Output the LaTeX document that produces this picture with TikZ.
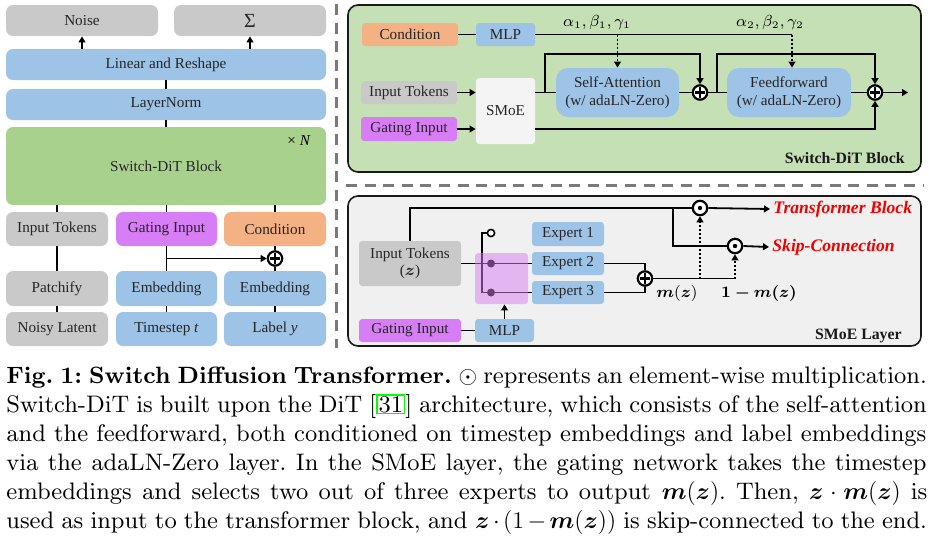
\documentclass[tikz,border=0pt]{standalone}
\usepackage{fontspec}
\usepackage{bm}
\usetikzlibrary{arrows.meta}
\newfontfamily\tnr{Liberation Serif}
\newcommand\bfont{\tnr\fontsize{7.6}{8.8}\selectfont}
\font\capr=cmr9 at 11.94pt
\font\capb=cmbx9 at 11.8pt
\definecolor{cgray}{HTML}{C9C9C9}
\definecolor{cblue}{HTML}{9DC3E6}
\definecolor{cgreen}{HTML}{A9D18E}
\definecolor{corange}{HTML}{F4B183}
\definecolor{cpurple}{HTML}{D77DF5}
\definecolor{cpanelG}{HTML}{C5E0B4}
\definecolor{cpanelS}{HTML}{F0F0F0}
\definecolor{csmoe}{HTML}{F4F4F4}
\definecolor{csep}{HTML}{7A7A7A}
\newcommand\bx[7]{\node[#1,minimum width={(#4-#2)*0.5pt},minimum height={(#5-#3)*0.5pt}] (#6) at ({(#2+#4)/2},{(#3+#5)/2}) {#7};}
\newcommand\gcite[1]{{\fboxsep=0.4pt\fboxrule=0.7pt\fcolorbox{green}{white}{#1}}}
\begin{document}
\begin{tikzpicture}[x=0.5pt,y=-0.5pt,
  base/.style={rectangle,rounded corners=1.6pt,inner sep=0pt,align=center,font=\bfont,text=black!85},
  big/.style={rounded corners=3.5pt},
  gbox/.style={base,fill=cgray},
  bbox/.style={base,fill=cblue},
  grbox/.style={base,fill=cgreen},
  obox/.style={base,fill=corange},
  pbox/.style={base,fill=cpurple},
  wbox/.style={base,fill=csmoe},
  sabox/.style={base,fill=cblue,rounded corners=6pt},
  panel/.style={rectangle,draw=black!90,line width=0.8pt,rounded corners=5pt,inner sep=0pt},
  conn/.style={line width=0.9pt,draw=black},
  arr/.style={conn,-{Triangle[length=3pt,width=3.4pt]}},
  darr/.style={line width=0.9pt,dash pattern=on 1pt off 1pt,-{Triangle[length=3pt,width=3.4pt]}},
  plusn/.style={circle,draw,line width=1.1pt,fill=white,minimum size=7.2pt,inner sep=0pt,
    path picture={\draw[line width=1.1pt] ([yshift=2.7pt]path picture bounding box.center) -- ([yshift=-2.7pt]path picture bounding box.center) ([xshift=-2.7pt]path picture bounding box.center) -- ([xshift=2.7pt]path picture bounding box.center);}},
  odotn/.style={circle,draw,line width=1.1pt,fill=white,minimum size=7.2pt,inner sep=0pt},
  ocirc/.style={circle,draw,line width=0.8pt,fill=white,minimum size=3.6pt,inner sep=0pt},
  dotn/.style={circle,fill=black,minimum size=4pt,inner sep=0pt},
  sep/.style={draw=csep,line width=1.5pt,dash pattern=on 5.5pt off 3.8pt},
  bold/.style={inner sep=0pt,font=\tnr\bfseries\fontsize{7.9}{9}\selectfont,text=black!90},
  redlab/.style={inner sep=0pt,anchor=west,text=red!95!black,font=\tnr\bfseries\itshape\fontsize{8.8}{10}\selectfont},
  mlab/.style={inner sep=0pt,font=\fontsize{7.6}{9}\selectfont},
  capl/.style={anchor=base west,inner sep=0pt,font=\fontsize{11.94}{14.6}\selectfont\capr\frenchspacing}
]
\useasboundingbox (0,0) rectangle (929,537);

% ---------------- left column ----------------
\bx{gbox,big}{6}{5}{158}{36}{noise}{Noise}
\bx{gbox,big}{174}{5}{326}{36}{sigma}{\fontsize{10}{10}\selectfont Σ}
\bx{bbox,big}{6}{49}{326}{80}{linear}{Linear and Reshape}
\bx{bbox,big}{6}{89}{326}{120}{lnorm}{LayerNorm}
\bx{grbox,big}{6}{127}{326}{205}{block}{Switch-DiT Block}
\node[font=\bfont,inner sep=0pt] (xn) at (299,141) {× \textit{N}};
\bx{gbox,big}{6}{212}{108}{246}{itok}{Input Tokens}
\bx{pbox,big}{116}{212}{217}{246}{gin}{Gating Input}
\bx{obox,big}{224}{212}{326}{246}{cond}{Condition}
\bx{gbox,big}{6}{271}{108}{306}{patch}{Patchify}
\bx{bbox,big}{116}{271}{217}{306}{emb1}{Embedding}
\bx{bbox,big}{224}{271}{326}{306}{emb2}{Embedding}
\bx{gbox,big}{6}{312}{108}{346}{noisy}{Noisy Latent}
\bx{bbox,big}{116}{312}{217}{346}{tstep}{Timestep \textit{t}}
\bx{bbox,big}{224}{312}{326}{346}{label}{Label \textit{y}}
\node[plusn] (lplus) at (275,258.5) {};

\draw[arr] (noise.south |- linear.north) -- (noise.south);
\draw[arr] (sigma.south |- linear.north) -- (sigma.south);
\draw[conn] (lnorm.north) -- (linear.south);
\draw[conn] (block.north) -- (lnorm.south);
\draw[conn] (itok.north) -- (itok.north |- block.south);
\draw[conn] (gin.north) -- (gin.north |- block.south);
\draw[conn] (cond.north) -- (cond.north |- block.south);
\draw[conn] (patch.north) -- (itok.south);
\draw[conn] (noisy.north) -- (patch.south);
\draw[conn] (tstep.north) -- (emb1.south);
\draw[conn] (emb1.north) -- (gin.south);
\draw[arr] (emb1.north |- lplus) -- (lplus.west);
\draw[conn] (label.north) -- (emb2.south);
\draw[conn] (emb2.north) -- (lplus.south);
\draw[conn] (lplus.north) -- (cond.south);

% ---------------- separators ----------------
\draw[sep] (336,4) -- (336,348);
\draw[sep] (346,185) -- (924,185);

% ---------------- Switch-DiT block panel ----------------
\bx{panel,fill=cpanelG}{348}{5}{921}{172}{pdit}{}
\node[bold,anchor=base east] (pditl) at (905,163) {Switch-DiT Block};
\bx{obox}{362}{23}{458}{46}{tcond}{Condition}
\bx{bbox}{476}{23}{535}{46}{tmlp}{MLP}
\bx{gbox}{361}{81}{457}{104}{titok}{Input Tokens}
\bx{pbox}{361}{117}{457}{141}{tgin}{Gating Input}
\bx{wbox}{476}{78}{535}{144}{smoe}{SMoE}
\bx{sabox}{556}{68}{679}{117}{sa}{Self-Attention\\(w/ adaLN-Zero)}
\bx{sabox}{727}{68}{851}{117}{ff}{Feedforward\\(w/ adaLN-Zero)}
\node[plusn] (p1) at (700,92.5) {};
\node[plusn] (p2) at (875,92.5) {};
\node[mlab] (ab1) at (597,22) {$\alpha_1,\beta_1,\gamma_1$};
\node[mlab] (ab2) at (770,22) {$\alpha_2,\beta_2,\gamma_2$};
\coordinate (c2) at (792,34.5);
\coordinate (j1) at (545,92.5);
\coordinate (l1) at (545,54);
\coordinate (j2) at (717,92.5);
\coordinate (l2) at (717,54);
\coordinate (tout) at (908,92.5);

\draw[conn] (tcond) -- (tmlp);
\draw[conn] (tmlp.east) -- (c2);
\draw[darr] (sa.north |- tmlp.east) -- (sa.north);
\draw[darr] (c2) -- (c2 |- ff.north);
\draw[arr] (titok.east) -- (smoe.west |- titok.east);
\draw[arr] (tgin.east) -- (smoe.west |- tgin.east);
\draw[conn] (smoe.east |- j1) -- (sa.west);
\draw[arr] (j1) -- (l1) -| (p1.north);
\draw[conn] (sa.east) -- (p1.west);
\draw[conn] (p1.east) -- (ff.west);
\draw[arr] (j2) -- (l2) -| (p2.north);
\draw[conn] (ff.east) -- (p2.west);
\draw[arr] (p2.east) -- (tout);
\draw[arr] (smoe.east |- tgin) -| (p2.south);

% ---------------- SMoE layer panel ----------------
\bx{panel,fill=cpanelS}{348}{196}{921}{346}{psm}{}
\node[bold,anchor=base east] (psml) at (902,339) {SMoE Layer};
\bx{gbox}{359}{241}{461}{286}{sitok}{Input Tokens\\($\bm{z}$)}
\bx{bbox}{532}{222}{604}{246}{e1}{Expert 1}
\bx{bbox}{532}{252}{604}{275}{e2}{Expert 2}
\bx{bbox}{532}{281}{604}{304}{e3}{Expert 3}
\bx{pbox}{359}{319}{461}{342}{sgin}{Gating Input}
\bx{bbox}{475}{319}{534}{342}{smlp}{MLP}
\node[plusn] (sp) at (645,278.5) {};
\node[odotn] (od1) at (700,208) {};
\node[odotn] (od2) at (735,246) {};
\fill (od1.center) circle (1.1pt) (od2.center) circle (1.1pt);
\node[ocirc] (d1) at (491,233) {};
\coordinate (swt) at (482,233);
\coordinate (swb) at (482,292.5);
\coordinate (j3) at (673,208);
\coordinate (m1) at (700,278.5);
\coordinate (m2) at (735,278.5);

\draw[conn] (sitok.east) -- (e2.west);
\draw[conn] (d1.west) -- (swt) -- (swb) -- (e3.west);
\node[dotn] (d2) at (491,263.5) {};
\node[dotn] (d3) at (491,292.5) {};
\bx{base,fill=cpurple,fill opacity=0.5}{475}{253}{528}{304}{gate}{}
\draw[conn] (sgin) -- (smlp);
\draw[arr] (smlp.north) -- (smlp.north |- gate.south);
\draw[conn] (e2.east) -| (sp.north);
\draw[conn] (e3.east) -| (sp.south);
\draw[conn] (sp.east) -- (m2);
\draw[darr] (m1) -- (od1.south);
\draw[darr] (m2) -- (od2.south);
\draw[conn] (sitok.north) |- (od1.west);
\draw[conn] (j3) |- (od2.west);
\node[redlab] (tbl) at (773,209) {Transformer Block};
\node[redlab] (skl) at (772,247) {Skip-Connection};
\draw[arr] (od1.east) -- ([xshift=-1.5pt]tbl.west);
\draw[arr] (od2.east) -- ([xshift=-1.5pt]skl.west);
\node[inner sep=0pt,font=\fontsize{8.2}{9}\selectfont] (mz) at (677,293) {$\bm{m}(\bm{z})$};
\node[inner sep=0pt,font=\fontsize{8.2}{9}\selectfont] (omz) at (759,293) {$\bm{1-m(z)}$};

% ---------------- caption ----------------
\node[capl] (cap1) at (6,383) {\hbox to 460.5pt{{\capb Fig.\ 1: Switch Diffusion Transformer.} $\odot$ represents an element-wise multiplication.}};
\node[capl] (cap2) at (6,412) {\hbox to 460.5pt{Switch-DiT is built upon the DiT [\gcite{31}] architecture, which consists of the self-attention}};
\node[capl] (cap3) at (6,441) {\hbox to 460.5pt{and the feedforward, both conditioned on timestep embeddings and label embeddings}};
\node[capl] (cap4) at (6,470) {\hbox to 460.5pt{via the adaLN-Zero layer. In the SMoE layer, the gating network takes the timestep}};
\node[capl] (cap5) at (6,499) {\hbox to 460.5pt{embeddings and selects two out of three experts to output $\bm{m}(\bm{z})$. Then, $\bm{z}\cdot\bm{m}(\bm{z})$ is}};
\node[capl] (cap6) at (6,528) {\hbox to 460.5pt{used as input to the transformer block, and $\bm{z}\cdot(1-\bm{m}(\bm{z}))$ is skip-connected to the end.}};
\end{tikzpicture}
\end{document}
